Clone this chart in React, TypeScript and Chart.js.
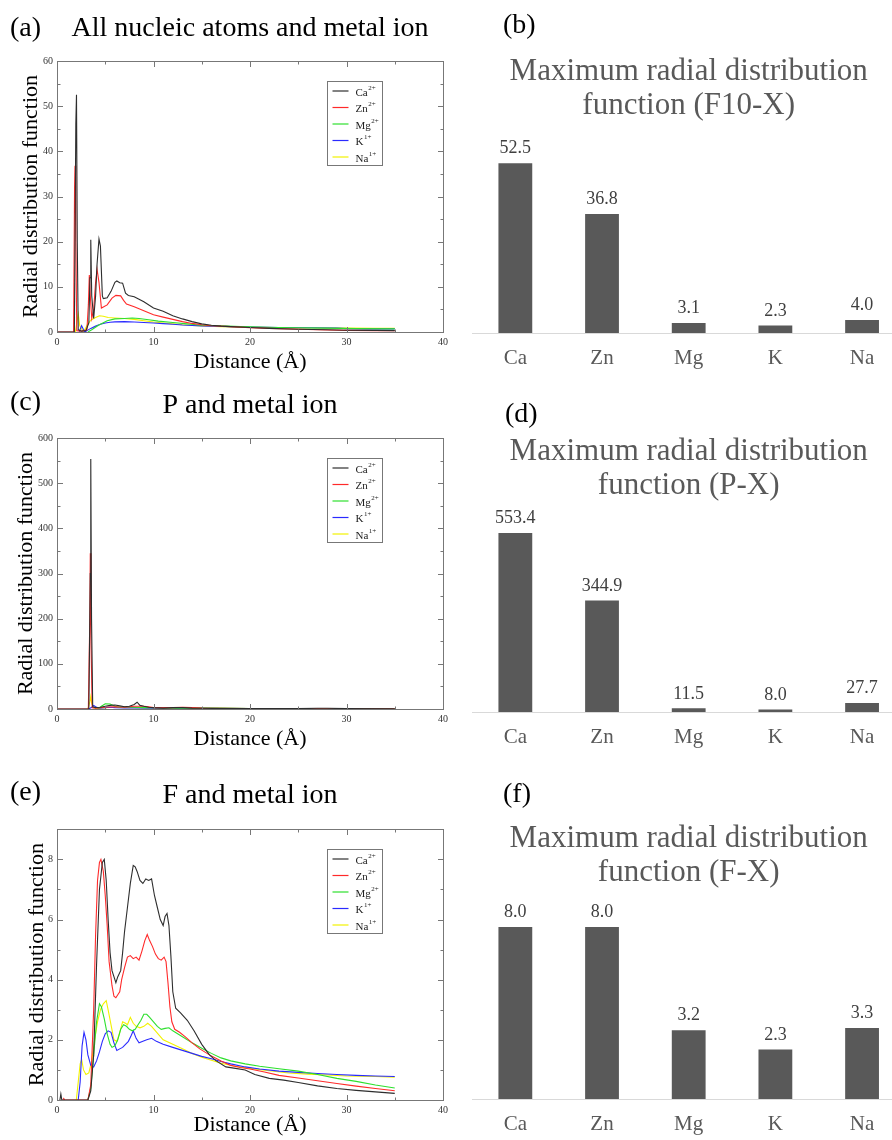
import { useEffect, useRef } from 'react';
import { Chart, registerables } from 'chart.js';

Chart.register(...registerables);

// ---------------- data ----------------
type Pt = [number, number];

const ionNames = ['Ca', 'Zn', 'Mg', 'K', 'Na'];
const ionCharges = ['2+', '2+', '2+', '1+', '1+'];

// RDF, all nucleic atoms (F10) vs metal ion: [distance Å, g(r)]
const caAll: Pt[] = [[0, 0], [1.8, 0], [1.95, 46], [2.02, 52.5], [2.1, 20], [2.2, 0.5], [2.5, 0.2], [3.0, 0.3], [3.3, 2], [3.42, 12], [3.5, 20.4], [3.6, 8], [3.8, 3], [4.0, 8], [4.15, 15], [4.35, 20.6], [4.5, 19], [4.7, 8], [4.8, 7.4], [5.2, 7.6], [5.6, 9], [6.0, 11], [6.2, 11.3], [6.5, 10.9], [6.8, 10.8], [7.1, 8.6], [7.4, 8.1], [8, 7.8], [9, 6.7], [10, 5.3], [11, 4.6], [12, 3.6], [13, 2.9], [14, 2.3], [15, 1.8], [16, 1.5], [17, 1.3], [18, 1.2], [20, 1.0], [22, 0.8], [25, 0.6], [28, 0.5], [30, 0.4], [33, 0.35], [35, 0.3]];
const znAll: Pt[] = [[0, 0], [1.72, 0], [1.82, 32], [1.87, 36.8], [1.95, 20], [2.05, 0.3], [2.6, 0.2], [3.1, 0.5], [3.25, 6], [3.35, 12.6], [3.45, 8], [3.6, 3], [3.8, 5], [4.0, 11], [4.15, 13.9], [4.35, 11], [4.6, 5.3], [5.2, 6], [5.7, 7.5], [6.1, 8.1], [6.6, 8.0], [6.9, 7.0], [7.2, 6.2], [8, 5.6], [9, 4.7], [10, 3.8], [11, 3.3], [12, 2.8], [13, 2.3], [14, 1.9], [15, 1.6], [16, 1.4], [18, 1.2], [20, 0.95], [22, 0.8], [25, 0.6], [28, 0.45], [30, 0.35], [33, 0.3], [35, 0.3]];
const mgAll: Pt[] = [[3.2, 0], [3.6, 0.5], [4.3, 1.5], [5.2, 2.5], [6, 2.9], [7, 3.0], [7.8, 3.1], [8.5, 3.0], [9.5, 2.7], [10.5, 2.4], [12, 2.1], [13.5, 1.8], [15, 1.5], [17, 1.35], [19, 1.2], [21, 1.1], [23, 1.0], [25, 0.95], [28, 0.85], [31, 0.75], [35, 0.7]];
const kAll: Pt[] = [[2.3, 0], [2.55, 1.4], [2.75, 0.5], [2.9, 0], [3.1, 0.3], [3.5, 0.8], [4, 1.3], [4.5, 1.7], [5, 2.0], [5.5, 2.15], [6, 2.25], [7, 2.3], [8, 2.2], [9, 2.1], [10, 2.0], [11, 1.85], [12, 1.7], [13, 1.55], [14, 1.45], [15, 1.35], [17, 1.25], [20, 1.1], [23, 1.0], [26, 0.95], [29, 0.9], [30, 0.75], [32, 0.7], [35, 0.7]];
const naAll: Pt[] = [[1.9, 0], [2.05, 2], [2.2, 4.0], [2.35, 1.5], [2.5, 0.8], [2.7, 0.2], [2.9, 0.6], [3.2, 1.8], [3.5, 2.6], [4, 3.2], [4.4, 3.6], [4.8, 3.5], [5.3, 3.2], [6, 3.1], [7, 3.0], [8, 2.8], [9, 2.5], [10, 2.2], [11, 2.0], [12, 1.8], [13, 1.6], [14, 1.45], [15, 1.35], [17, 1.2], [20, 1.05], [23, 0.95], [26, 0.9], [30, 0.85], [33, 0.8], [35, 0.8]];

// RDF, P vs metal ion
const caP: Pt[] = [[0, 0], [3.3, 0], [3.45, 300], [3.5, 553.4], [3.58, 200], [3.7, 5], [4, 3], [4.5, 4], [5, 6], [5.5, 8], [6, 9], [6.5, 7], [7, 5], [7.5, 6], [8, 10], [8.3, 15], [8.6, 8], [9, 6], [9.5, 4], [10, 3], [11, 2], [12, 3], [13, 3], [14, 2], [15, 1.5], [17, 1], [20, 1], [25, 0.8], [27, 1.5], [28, 1.5], [30, 0.8], [35, 0.6]];
const znP: Pt[] = [[0, 0], [3.25, 0], [3.4, 200], [3.45, 344.9], [3.52, 150], [3.65, 3], [4, 2], [5, 4], [6, 5], [7, 4], [8, 6], [9, 6], [9.5, 5], [10, 3], [12, 3], [13, 4], [14, 3], [15, 2], [17, 1.5], [20, 1], [25, 0.8], [30, 0.6], [35, 0.5]];
const mgP: Pt[] = [[4.2, 0], [4.6, 6], [5, 11.5], [5.5, 11], [6, 6], [6.5, 4], [7, 5], [8, 4], [9, 3], [10, 3], [12, 2], [15, 2], [17, 2], [20, 1], [25, 1], [30, 0.8], [35, 0.7]];
const kP: Pt[] = [[3.3, 0], [3.6, 4], [3.8, 8.0], [4.0, 5], [4.3, 2], [5, 3], [5.5, 4], [6, 3], [7, 2.5], [8, 2.5], [10, 2], [12, 1.8], [15, 1.5], [20, 1.1], [25, 1], [30, 0.9], [35, 0.8]];
const naP: Pt[] = [[3.2, 0], [3.4, 15], [3.5, 27.7], [3.6, 12], [3.8, 3], [4.2, 2], [5, 3], [6, 4], [7, 3], [8, 3], [10, 2.5], [12, 2], [15, 1.6], [20, 1.1], [25, 1], [30, 0.9], [35, 0.8]];

// RDF, F vs metal ion
const caF: Pt[] = [[0.3, 0], [0.4, 0.2], [0.5, 0], [3.2, 0], [3.5, 0.3], [3.8, 1.5], [4.1, 4.5], [4.4, 7.0], [4.7, 7.9], [4.9, 8.0], [5.1, 7.3], [5.3, 6.0], [5.5, 4.9], [5.7, 4.3], [5.9, 4.1], [6.1, 3.9], [6.3, 4.1], [6.6, 4.3], [6.8, 4.9], [7.0, 5.6], [7.3, 6.4], [7.6, 7.2], [7.9, 7.8], [8.1, 7.75], [8.3, 7.6], [8.6, 7.3], [8.9, 7.2], [9.2, 7.35], [9.5, 7.3], [9.8, 7.35], [10.1, 6.8], [10.4, 6.4], [10.7, 6.0], [11.0, 5.8], [11.2, 6.1], [11.4, 6.2], [11.6, 5.8], [11.8, 4.8], [12.0, 3.6], [12.3, 3.05], [12.8, 2.9], [13.5, 2.65], [14.2, 2.3], [15.0, 1.85], [15.8, 1.5], [16.5, 1.3], [17.5, 1.1], [18.5, 1.05], [19.5, 1.0], [20.5, 0.85], [22, 0.72], [23.5, 0.66], [25, 0.58], [27, 0.47], [29, 0.38], [31, 0.32], [33, 0.27], [35, 0.22]];
const znF: Pt[] = [[0.6, 0], [0.7, 0.05], [0.8, 0], [3.2, 0], [3.5, 0.5], [3.8, 3.0], [4.0, 5.5], [4.2, 7.3], [4.4, 7.9], [4.55, 8.0], [4.8, 7.6], [5.0, 6.8], [5.2, 5.8], [5.4, 4.6], [5.7, 3.8], [5.9, 3.45], [6.1, 3.4], [6.3, 3.5], [6.5, 3.6], [6.7, 4.0], [7.0, 4.4], [7.3, 4.75], [7.6, 4.8], [7.9, 4.7], [8.2, 4.75], [8.5, 4.65], [8.8, 4.95], [9.1, 5.3], [9.35, 5.5], [9.6, 5.3], [9.9, 5.1], [10.2, 4.85], [10.5, 4.7], [10.8, 4.65], [11.1, 4.75], [11.3, 4.6], [11.5, 3.9], [11.7, 3.1], [11.9, 2.6], [12.2, 2.35], [12.7, 2.25], [13.3, 2.1], [14, 1.9], [14.8, 1.7], [15.8, 1.5], [17, 1.3], [18, 1.15], [19, 1.08], [20, 1.03], [21.5, 0.93], [23, 0.82], [25, 0.73], [27, 0.64], [29, 0.55], [31, 0.46], [33, 0.38], [35, 0.31]];
const mgF: Pt[] = [[3.2, 0], [3.5, 0.4], [3.8, 1.5], [4.1, 2.6], [4.4, 3.2], [4.6, 3.1], [4.9, 2.7], [5.2, 2.2], [5.5, 1.85], [5.7, 1.75], [6.0, 1.8], [6.3, 2.0], [6.6, 2.35], [6.9, 2.5], [7.2, 2.45], [7.5, 2.35], [7.8, 2.3], [8.1, 2.35], [8.4, 2.5], [8.7, 2.65], [9.0, 2.85], [9.3, 2.85], [9.6, 2.75], [10.0, 2.6], [10.4, 2.45], [10.8, 2.35], [11.2, 2.38], [11.6, 2.4], [12, 2.3], [12.5, 2.2], [13, 2.1], [14, 1.9], [15, 1.72], [16, 1.55], [17, 1.4], [18, 1.3], [19.5, 1.2], [21, 1.12], [23, 1.04], [25, 0.96], [27, 0.85], [29, 0.72], [31, 0.62], [33, 0.5], [35, 0.4]];
const kF: Pt[] = [[2.2, 0], [2.4, 0.6], [2.6, 1.8], [2.8, 2.25], [3.0, 2.0], [3.2, 1.5], [3.5, 1.15], [3.8, 1.1], [4.1, 1.3], [4.4, 1.6], [4.7, 1.95], [5.0, 2.2], [5.3, 2.3], [5.6, 2.25], [5.9, 1.9], [6.2, 1.65], [6.5, 1.7], [6.8, 1.75], [7.1, 1.85], [7.4, 1.95], [7.7, 2.15], [7.9, 2.3], [8.2, 2.05], [8.5, 1.9], [8.9, 1.95], [9.3, 2.0], [9.8, 2.05], [10.3, 1.95], [11, 1.85], [12, 1.75], [13, 1.65], [14, 1.55], [15, 1.45], [16, 1.37], [17, 1.28], [18, 1.2], [19.5, 1.1], [21, 1.03], [23, 0.96], [25, 0.92], [27, 0.88], [29, 0.85], [31, 0.82], [33, 0.8], [35, 0.78]];
const naF: Pt[] = [[2.0, 0], [2.2, 0.6], [2.4, 1.2], [2.55, 1.35], [2.75, 1.0], [3.0, 0.85], [3.3, 0.9], [3.6, 1.3], [3.9, 2.0], [4.2, 2.6], [4.5, 3.0], [4.8, 3.2], [5.1, 3.3], [5.3, 3.0], [5.6, 2.5], [5.9, 2.0], [6.2, 1.95], [6.5, 2.25], [6.8, 2.6], [7.1, 2.55], [7.3, 2.5], [7.6, 2.75], [7.9, 2.55], [8.2, 2.45], [8.6, 2.4], [9.0, 2.45], [9.4, 2.55], [9.8, 2.45], [10.2, 2.3], [10.6, 2.15], [11, 2.0], [12, 1.85], [13, 1.7], [14, 1.55], [15, 1.42], [16, 1.32], [17, 1.22], [18.5, 1.12], [20, 1.05], [22, 0.97], [24, 0.9], [26, 0.86], [28, 0.83], [30, 0.8], [33, 0.78], [35, 0.76]];

// maximum RDF per ion
const maxF10X = [52.5, 36.8, 3.1, 2.3, 4.0];
const maxPX = [553.4, 344.9, 11.5, 8.0, 27.7];
const maxFX = [8.0, 8.0, 3.2, 2.3, 3.3];

// ---------------- styles ----------------
const SERIF = '"Liberation Serif", "Times New Roman", serif';
const ionColors = ['#2e2e2e', '#ff2a2a', '#2ee02e', '#2a2aff', '#f2f200'];
const FRAME = '#777777';

const framePlugin = {
  id: 'rdfFrame',
  afterDatasetsDraw(chart: any) {
    const { ctx, chartArea: a, scales } = chart;
    const L = Math.round(a.left) + 0.5, R = Math.round(a.right) + 0.5;
    const T = Math.round(a.top) + 0.5, B = Math.round(a.bottom) + 0.5;
    const marks = (scale: any): [number, number][] => {
      const v: number[] = scale.ticks.map((t: any) => t.value);
      const step = v[1] - v[0];
      const major = v.map((val) => [val, 5.5] as [number, number]);
      const minor = v.map((val) => [val + step / 2, 3] as [number, number]).filter(([val]) => val < scale.max);
      return [...major, ...minor];
    };
    ctx.save();
    ctx.strokeStyle = FRAME;
    ctx.lineWidth = 1;
    ctx.strokeRect(L, T, R - L, B - T);
    ctx.beginPath();
    for (const [v, len] of marks(scales.x)) {
      const px = Math.round(scales.x.getPixelForValue(v)) + 0.5;
      ctx.moveTo(px, B); ctx.lineTo(px, B - len);
      ctx.moveTo(px, T); ctx.lineTo(px, T + len);
    }
    for (const [v, len] of marks(scales.y)) {
      const py = Math.round(scales.y.getPixelForValue(v)) + 0.5;
      ctx.moveTo(L, py); ctx.lineTo(L + len, py);
      ctx.moveTo(R, py); ctx.lineTo(R - len, py);
    }
    ctx.stroke();
    ctx.restore();
  },
};

const ionLegendPlugin = {
  id: 'ionLegend',
  afterDraw(chart: any) {
    const { ctx, chartArea } = chart;
    const bx = Math.round(chartArea.left + 270) + 0.5;
    const by = Math.round(chartArea.top + 20) + 0.5;
    const bw = 55, bh = 84;
    ctx.save();
    ctx.fillStyle = '#ffffff';
    ctx.fillRect(bx, by, bw, bh);
    ctx.strokeStyle = FRAME;
    ctx.lineWidth = 1;
    ctx.strokeRect(bx, by, bw, bh);
    chart.data.datasets.forEach((ds: any, i: number) => {
      const y = by + 9.5 + i * 16.5;
      ctx.strokeStyle = ds.borderColor;
      ctx.lineWidth = 1.2;
      ctx.beginPath();
      ctx.moveTo(bx + 5, y);
      ctx.lineTo(bx + 21, y);
      ctx.stroke();
      ctx.fillStyle = '#222';
      ctx.textAlign = 'left';
      ctx.textBaseline = 'middle';
      ctx.font = `11px ${SERIF}`;
      ctx.fillText(ionNames[i], bx + 28, y + 2);
      const w = ctx.measureText(ionNames[i]).width;
      ctx.font = `7px ${SERIF}`;
      ctx.fillText(ionCharges[i], bx + 28 + w + 0.5, y - 3);
    });
    ctx.restore();
  },
};

const barValuePlugin = {
  id: 'barValues',
  afterDatasetsDraw(chart: any) {
    const { ctx } = chart;
    const meta = chart.getDatasetMeta(0);
    const values: number[] = chart.data.datasets[0].data;
    ctx.save();
    ctx.fillStyle = '#404040';
    ctx.font = `18px ${SERIF}`;
    ctx.textAlign = 'center';
    ctx.textBaseline = 'middle';
    meta.data.forEach((bar: any, i: number) => {
      ctx.fillText(values[i].toFixed(1), bar.x, bar.y - 14.5);
    });
    ctx.restore();
  },
};

type LineSpec = {
  top: number; height: number; title: string; titlePadTop: number; titlePadBottom: number;
  xAxisH: number; yTitlePad: number; yMax: number; yStep: number; series: Pt[][];
};

function RdfPanel({ spec }: { spec: LineSpec }) {
  const ref = useRef<HTMLCanvasElement>(null);
  useEffect(() => {
    const chart = new Chart(ref.current!, {
      type: 'line',
      data: {
        datasets: spec.series.map((s, i) => ({
          label: ionNames[i] + ionCharges[i],
          data: s.map(([x, y]) => ({ x, y })),
          borderColor: ionColors[i],
          borderWidth: 1.1,
          pointRadius: 0,
          tension: 0,
          fill: false,
        })),
      },
      options: {
        animation: false,
        responsive: false,
        devicePixelRatio: 1,
        layout: { padding: { left: 0, right: 9, top: 0, bottom: 0 } },
        plugins: {
          legend: { display: false },
          tooltip: { enabled: false },
          title: {
            display: true,
            text: spec.title,
            fullSize: false,
            color: '#000',
            font: { family: SERIF, size: 28, weight: 'normal', lineHeight: 1.2 },
            padding: { top: spec.titlePadTop, bottom: spec.titlePadBottom },
          },
        },
        scales: {
          x: {
            type: 'linear',
            min: 0,
            max: 40,
            ticks: { stepSize: 10, padding: 4, color: '#333', maxRotation: 0, font: { family: SERIF, size: 10 } },
            grid: { display: false, drawTicks: false },
            border: { display: false },
            title: { display: true, text: 'Distance (Å)', color: '#000', font: { family: SERIF, size: 22 }, padding: 0 },
            afterFit: (s: any) => { s.height = spec.xAxisH; },
          },
          y: {
            type: 'linear',
            min: 0,
            max: spec.yMax,
            ticks: { stepSize: spec.yStep, includeBounds: false, padding: 4, color: '#333', font: { family: SERIF, size: 10 } },
            grid: { display: false, drawTicks: false },
            border: { display: false },
            title: { display: true, text: 'Radial distribution function', color: '#000', font: { family: SERIF, size: 22 }, padding: { top: spec.yTitlePad, bottom: 0 } },
            afterFit: (s: any) => { s.width = 57; },
          },
        },
      } as any,
      plugins: [framePlugin, ionLegendPlugin],
    });
    return () => chart.destroy();
  }, [spec]);
  return (
    <canvas
      ref={ref}
      width={452}
      height={spec.height}
      style={{ position: 'absolute', left: 0, top: spec.top, width: 452, height: spec.height }}
    />
  );
}

type BarSpec = {
  top: number; height: number; title: string[]; titlePadTop: number; titlePadBottom: number;
  yMax: number; values: number[];
};

function MaxPanel({ spec }: { spec: BarSpec }) {
  const ref = useRef<HTMLCanvasElement>(null);
  useEffect(() => {
    const chart = new Chart(ref.current!, {
      type: 'bar',
      data: {
        labels: ionNames,
        datasets: [{ data: spec.values, backgroundColor: '#595959', barPercentage: 0.39, categoryPercentage: 1 }],
      },
      options: {
        animation: false,
        responsive: false,
        devicePixelRatio: 1,
        layout: { padding: { left: 17, right: 4.6, top: 0, bottom: 0 } },
        plugins: {
          legend: { display: false },
          tooltip: { enabled: false },
          title: {
            display: true,
            text: spec.title,
            fullSize: false,
            color: '#595959',
            font: { family: SERIF, size: 31, weight: 'normal', lineHeight: 34 / 31 },
            padding: { top: spec.titlePadTop, bottom: spec.titlePadBottom },
          },
        },
        scales: {
          x: {
            grid: { display: false, drawTicks: false },
            border: { display: true, color: '#d9d9d9', width: 1 },
            ticks: { color: '#595959', padding: 12.4, font: { family: SERIF, size: 21 } },
            afterFit: (s: any) => { s.height = 45; },
          },
          y: { display: false, min: 0, max: spec.yMax },
        },
      } as any,
      plugins: [barValuePlugin],
    });
    return () => chart.destroy();
  }, [spec]);
  return (
    <canvas
      ref={ref}
      width={455}
      height={spec.height}
      style={{ position: 'absolute', left: 455, top: spec.top, width: 455, height: spec.height }}
    />
  );
}

const rdfPanels: LineSpec[] = [
  { top: 0, height: 375, title: 'All nucleic atoms and metal ion', titlePadTop: 12.2, titlePadBottom: 15.2, xAxisH: 43, yTitlePad: 18, yMax: 60, yStep: 10, series: [caAll, znAll, mgAll, kAll, naAll] },
  { top: 375, height: 377, title: 'P and metal ion', titlePadTop: 14.2, titlePadBottom: 15.2, xAxisH: 43, yTitlePad: 13.3, yMax: 600, yStep: 100, series: [caP, znP, mgP, kP, naP] },
  { top: 750, height: 388, title: 'F and metal ion', titlePadTop: 29.2, titlePadBottom: 16.5, xAxisH: 38, yTitlePad: 24.3, yMax: 9, yStep: 2, series: [caF, znF, mgF, kF, naF] },
];

const maxPanels: BarSpec[] = [
  { top: 0, height: 378, title: ['Maximum radial distribution', 'function (F10-X)'], titlePadTop: 55, titlePadBottom: 16, yMax: 60, values: maxF10X },
  { top: 375, height: 382, title: ['Maximum radial distribution', 'function (P-X)'], titlePadTop: 60, titlePadBottom: 15, yMax: 600, values: maxPX },
  { top: 750, height: 394, title: ['Maximum radial distribution', 'function (F-X)'], titlePadTop: 72, titlePadBottom: 15.5, yMax: 9, values: maxFX },
];

const panelTags: { text: string; left: number; top: number }[] = [
  { text: '(a)', left: 10, top: 12.5 },
  { text: '(b)', left: 503, top: 10 },
  { text: '(c)', left: 10, top: 386.5 },
  { text: '(d)', left: 505, top: 398.5 },
  { text: '(e)', left: 10, top: 776.5 },
  { text: '(f)', left: 503, top: 778.5 },
];

export default function App() {
  return (
    <div style={{ position: 'absolute', left: 0, top: 0, width: 892, height: 1140, overflow: 'hidden', background: '#fff' }}>
      {rdfPanels.map((p, i) => <RdfPanel key={'r' + i} spec={p} />)}
      {maxPanels.map((p, i) => <MaxPanel key={'m' + i} spec={p} />)}
      {panelTags.map((t) => (
        <div
          key={t.text}
          style={{ position: 'absolute', left: t.left, top: t.top, font: `28px ${SERIF}`, lineHeight: '28px', color: '#000', whiteSpace: 'nowrap' }}
        >
          {t.text}
        </div>
      ))}
    </div>
  );
}
